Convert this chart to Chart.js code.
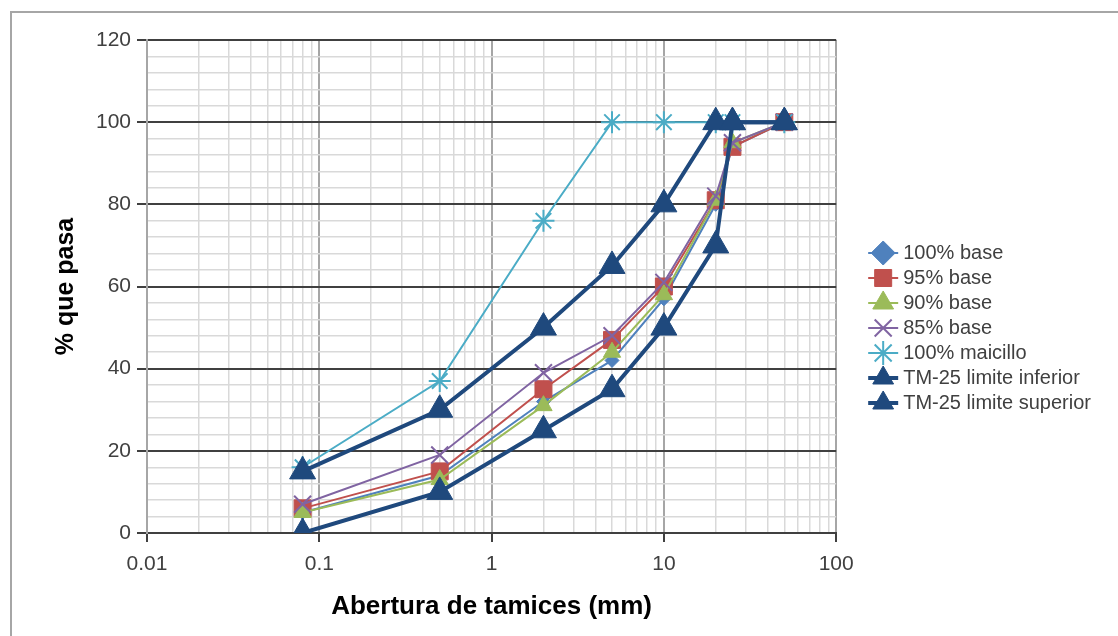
<!DOCTYPE html>
<html>
<head>
<meta charset="utf-8">
<title>Curva granulometrica</title>
<script src="https://cdn.jsdelivr.net/npm/chart.js"></script>
<style>
  body { margin: 0; background: #fff; }
  #wrap { position: relative; width: 1118px; height: 636px; overflow: hidden; }
  #chart { position: absolute; left: 0; top: 0; }
  #frame {
    position: absolute; left: 10px; top: 11px; right: 0; bottom: 0;
    border-left: 2px solid #a6a6a6; border-top: 2px solid #a6a6a6;
    pointer-events: none;
  }
</style>
</head>
<body>
<div id="wrap">
  <canvas id="chart" width="1118" height="636"></canvas>
  <div id="frame"></div>
</div>
<script>
// sieve openings (mm) and % passing for each mix
var sieves = [0.08, 0.5, 2, 5, 10, 20, 25, 50];
var base100 = [5, 14, 32, 42, 57, 80, 94, 100];
var base95 = [6, 15, 35, 47, 60, 81, 94, 100];
var base90 = [5, 13, 31, 44, 58, 81, 95, 100];
var base85 = [7, 19, 39, 48, 61, 82, 95, 100];
var maicillo = [16, 37, 76, 100, 100, 100, 100, 100];
var limInferior = [0, 10, 25, 35, 50, 70, 100, 100];
var limSuperior = [15, 30, 50, 65, 80, 100, 100, 100];

var xDecades = [0.01, 0.1, 1, 10, 100];
var yLabels = [0, 20, 40, 60, 80, 100, 120];

var LEGEND_FONT = 20;

function pts(values) {
    return values.map(function (v, i) { return { x: sieves[i], y: v }; });
}

function isDecade(v) {
    var l = Math.log10(v);
    return Math.abs(l - Math.round(l)) < 1e-9;
}

function serie(label, values, color, style, radius, width, order) {
    return {
        label: label,
        data: pts(values),
        borderColor: color,
        backgroundColor: color,
        borderWidth: width,
        pointStyle: style,
        pointRadius: radius,
        pointBorderWidth: (style == 'crossRot' || style == 'star') ? 2 : 1,
        pointBorderColor: color,
        pointBackgroundColor: color,
        tension: 0,
        yAxisID: 'y',
        order: order
    };
}

// short line behind each legend marker, like the spreadsheet legend
var legendLines = {
    id: 'legendLines',
    beforeDraw: function (chart) {
        var legend = chart.legend;
        if (!legend || !legend.legendHitBoxes) return;
        var ctx = chart.ctx;
        ctx.save();
        legend.legendHitBoxes.forEach(function (hb, i) {
            var item = legend.legendItems[i];
            var ds = chart.data.datasets[item.datasetIndex];
            var cx = hb.left + LEGEND_FONT / 2;
            var cy = hb.top + LEGEND_FONT / 2;
            ctx.strokeStyle = ds.borderColor;
            ctx.lineWidth = ds.borderWidth;
            ctx.beginPath();
            ctx.moveTo(cx - 15, cy);
            ctx.lineTo(cx + 15, cy);
            ctx.stroke();
        });
        ctx.restore();
    }
};

Chart.defaults.font.family = "'Liberation Sans', Arial, sans-serif";

var ctx = document.getElementById('chart').getContext('2d');
var chart = new Chart(ctx, {
    type: 'line',
    data: {
        datasets: [
            serie('100% base', base100, '#4f81bd', 'rectRot', 7, 2, 7),
            serie('95% base', base95, '#c0504d', 'rect', 12, 2, 6),
            serie('90% base', base90, '#9bbb59', 'triangle', 10, 2, 5),
            serie('85% base', base85, '#8064a2', 'crossRot', 12, 2, 4),
            serie('100% maicillo', maicillo, '#4bacc6', 'star', 11, 2, 3),
            serie('TM-25 limite inferior', limInferior, '#1f497d', 'triangle', 15, 4, 2),
            serie('TM-25 limite superior', limSuperior, '#1f497d', 'triangle', 15, 4, 1)
        ]
    },
    options: {
        responsive: false,
        animation: false,
        layout: { padding: { left: 0, right: 17, top: 40, bottom: 20 } },
        plugins: {
            tooltip: { enabled: false },
            legend: {
                position: 'right',
                align: 'center',
                maxWidth: 300,
                labels: {
                    usePointStyle: true,
                    boxHeight: 17,
                    padding: 5,
                    color: '#404040',
                    font: { size: LEGEND_FONT },
                    sort: function (a, b) { return a.datasetIndex - b.datasetIndex; }
                }
            }
        },
        scales: {
            x: {
                type: 'logarithmic',
                position: 'bottom',
                min: xDecades[0],
                max: xDecades[xDecades.length - 1],
                afterBuildTicks: function (scale) {
                    var ticks = [];
                    for (var d = 0; d < xDecades.length - 1; d++) {
                        for (var m = 1; m <= 9; m++) {
                            ticks.push({ value: Number((m * xDecades[d]).toPrecision(3)) });
                        }
                    }
                    ticks.push({ value: xDecades[xDecades.length - 1] });
                    scale.ticks = ticks;
                },
                afterFit: function (scale) { scale.height = 83; },
                ticks: {
                    autoSkip: false,
                    maxRotation: 0,
                    padding: 10,
                    color: '#404040',
                    font: { size: 21 },
                    callback: function (value) {
                        return isDecade(value) ? String(value) : '';
                    }
                },
                grid: {
                    tickLength: 9,
                    color: function (c) {
                        return c.tick && isDecade(c.tick.value) ? '#a6a6a6' : '#d9d9d9';
                    },
                    lineWidth: function (c) {
                        return c.tick && isDecade(c.tick.value) ? 2 : 1.5;
                    },
                    tickColor: function (c) {
                        return c.tick && isDecade(c.tick.value) ? '#404040' : 'rgba(0,0,0,0)';
                    },
                    tickWidth: 2
                },
                border: { color: '#404040', width: 2 },
                title: {
                    display: true,
                    text: 'Abertura de tamices (mm)',
                    color: '#000',
                    font: { size: 26, weight: 'bold', lineHeight: '18px' },
                    padding: { top: 0, bottom: 0 }
                }
            },
            y: {
                type: 'linear',
                position: 'left',
                min: yLabels[0],
                max: yLabels[yLabels.length - 1],
                afterFit: function (scale) { scale.width = 147; },
                ticks: {
                    stepSize: 4,
                    autoSkip: false,
                    padding: 6,
                    color: '#404040',
                    font: { size: 21 },
                    callback: function (value) {
                        return yLabels.indexOf(value) >= 0 ? String(value) : '';
                    }
                },
                grid: {
                    tickLength: 10,
                    color: function (c) {
                        return c.tick && c.tick.value % 20 === 0 ? '#404040' : '#d9d9d9';
                    },
                    lineWidth: function (c) {
                        return c.tick && c.tick.value % 20 === 0 ? 2 : 1.5;
                    },
                    tickColor: function (c) {
                        return c.tick && c.tick.value % 20 === 0 ? '#404040' : 'rgba(0,0,0,0)';
                    },
                    tickWidth: 2
                },
                border: { color: '#a6a6a6', width: 2 },
                title: {
                    display: true,
                    text: '% que pasa',
                    color: '#000',
                    font: { size: 25, weight: 'bold' },
                    padding: { top: 51, bottom: 0 }
                }
            },
            // empty space between plot and legend
            gap: {
                type: 'linear',
                position: 'right',
                display: true,
                afterFit: function (scale) { scale.width = 32; },
                ticks: { display: false },
                grid: { display: false, drawTicks: false },
                border: { display: false }
            }
        }
    },
    plugins: [legendLines]
});
</script>
</body>
</html>
